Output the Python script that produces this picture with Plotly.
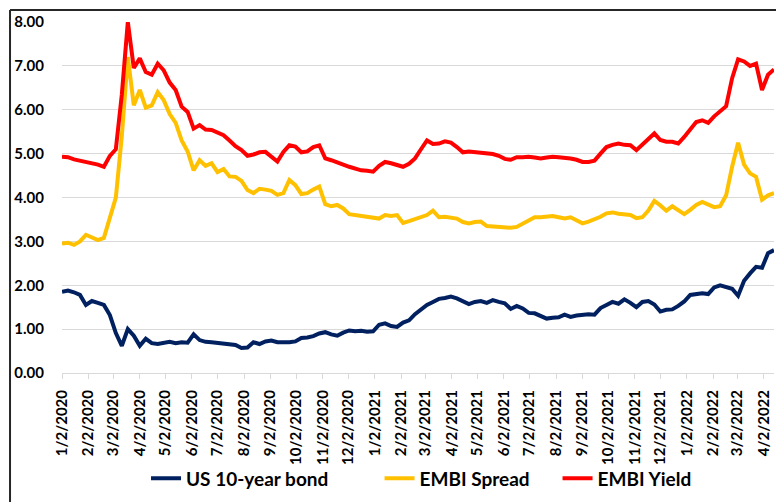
import pandas as pd
import plotly.graph_objects as go

# weekly observations from 2 Jan 2020 to 14 Apr 2022
dates = pd.date_range("2020-01-02", periods=120, freq="7D")

us_10y = [
    1.85, 1.88, 1.84, 1.78, 1.55, 1.64, 1.60, 1.55, 1.32, 0.91,
    0.62, 1.00, 0.85, 0.62, 0.78, 0.68, 0.66, 0.68, 0.71, 0.68,
    0.70, 0.69, 0.88, 0.75, 0.71, 0.70, 0.68, 0.68, 0.66, 0.64,
    0.57, 0.58, 0.70, 0.66, 0.72, 0.74, 0.70, 0.69, 0.70, 0.72,
    0.80, 0.81, 0.84, 0.90, 0.93, 0.88, 0.85, 0.92, 0.97, 0.95,
    0.96, 0.94, 0.95, 1.10, 1.13, 1.07, 1.05, 1.15, 1.20, 1.34,
    1.45, 1.55, 1.62, 1.69, 1.71, 1.74, 1.70, 1.63, 1.57, 1.62,
    1.64, 1.60, 1.66, 1.62, 1.59, 1.46, 1.53, 1.47, 1.37, 1.36,
    1.30, 1.24, 1.26, 1.27, 1.33, 1.28, 1.31, 1.33, 1.34, 1.33,
    1.48, 1.55, 1.62, 1.58, 1.68, 1.60, 1.50, 1.62, 1.64, 1.56,
    1.40, 1.44, 1.45, 1.53, 1.63, 1.78, 1.80, 1.82, 1.80, 1.95,
    2.00, 1.97, 1.92, 1.76, 2.10, 2.27, 2.42, 2.40, 2.73, 2.80,
]

embi_spread = [
    2.95, 2.97, 2.92, 3.00, 3.15, 3.08, 3.03, 3.08, 3.55, 4.00,
    5.40, 7.20, 6.10, 6.45, 6.05, 6.10, 6.40, 6.22, 5.90, 5.70,
    5.30, 5.05, 4.62, 4.85, 4.72, 4.78, 4.58, 4.65, 4.48, 4.47,
    4.38, 4.17, 4.10, 4.20, 4.18, 4.15, 4.06, 4.10, 4.40, 4.28,
    4.08, 4.10, 4.18, 4.25, 3.85, 3.80, 3.83, 3.75, 3.62, 3.60,
    3.60, 3.56, 3.55, 3.52, 3.60, 3.58, 3.60, 3.42, 3.46, 3.50,
    3.55, 3.60, 3.70, 3.55, 3.56, 3.55, 3.52, 3.44, 3.41, 3.44,
    3.45, 3.35, 3.34, 3.34, 3.32, 3.31, 3.33, 3.40, 3.47, 3.55,
    3.55, 3.56, 3.58, 3.55, 3.52, 3.55, 3.48, 3.41, 3.45, 3.50,
    3.56, 3.64, 3.66, 3.63, 3.61, 3.60, 3.53, 3.55, 3.70, 3.92,
    3.82, 3.70, 3.80, 3.72, 3.62, 3.72, 3.83, 3.90, 3.85, 3.78,
    3.80, 4.05, 4.70, 5.25, 4.75, 4.55, 4.47, 3.95, 4.05, 4.10,
]

embi_yield = [
    4.93, 4.92, 4.87, 4.84, 4.82, 4.78, 4.75, 4.70, 4.95, 5.10,
    6.35, 8.00, 6.95, 7.17, 6.86, 6.80, 7.05, 6.90, 6.62, 6.45,
    6.07, 5.95, 5.57, 5.65, 5.55, 5.54, 5.48, 5.42, 5.30, 5.17,
    5.08, 4.95, 4.98, 5.03, 5.04, 4.92, 4.82, 5.04, 5.19, 5.16,
    5.03, 5.05, 5.15, 5.19, 4.89, 4.85, 4.81, 4.75, 4.70, 4.66,
    4.62, 4.61, 4.59, 4.72, 4.81, 4.78, 4.75, 4.70, 4.77, 4.89,
    5.10, 5.30, 5.22, 5.23, 5.28, 5.25, 5.15, 5.03, 5.05, 5.04,
    5.03, 5.01, 4.99, 4.95, 4.88, 4.86, 4.92, 4.92, 4.93, 4.91,
    4.89, 4.91, 4.93, 4.92, 4.91, 4.89, 4.86, 4.81, 4.81, 4.84,
    5.00, 5.15, 5.20, 5.23, 5.20, 5.19, 5.08, 5.20, 5.31, 5.46,
    5.31, 5.27, 5.27, 5.23, 5.38, 5.56, 5.72, 5.76, 5.70, 5.85,
    5.98, 6.08, 6.72, 7.15, 7.10, 7.00, 7.05, 6.45, 6.80, 6.92,
]

tick_dates = [
    "2020-01-02", "2020-02-02", "2020-03-02", "2020-04-02", "2020-05-02", "2020-06-02",
    "2020-07-02", "2020-08-02", "2020-09-02", "2020-10-02", "2020-11-02", "2020-12-02",
    "2021-01-02", "2021-02-02", "2021-03-02", "2021-04-02", "2021-05-02", "2021-06-02",
    "2021-07-02", "2021-08-02", "2021-09-02", "2021-10-02", "2021-11-02", "2021-12-02",
    "2022-01-02", "2022-02-02", "2022-03-02", "2022-04-02",
]
tick_labels = [
    "1/2/2020", "2/2/2020", "3/2/2020", "4/2/2020", "5/2/2020", "6/2/2020",
    "7/2/2020", "8/2/2020", "9/2/2020", "10/2/2020", "11/2/2020", "12/2/2020",
    "1/2/2021", "2/2/2021", "3/2/2021", "4/2/2021", "5/2/2021", "6/2/2021",
    "7/2/2021", "8/2/2021", "9/2/2021", "10/2/2021", "11/2/2021", "12/2/2021",
    "1/2/2022", "2/2/2022", "3/2/2022", "4/2/2022",
]

series = [
    ("US 10-year bond", us_10y, "#002060", "legend"),
    ("EMBI Spread", embi_spread, "#FFC000", "legend2"),
    ("EMBI Yield", embi_yield, "#FF0000", "legend3"),
]

fig = go.Figure()
for name, vals, color, leg in series:
    fig.add_trace(go.Scatter(
        x=dates, y=vals, mode="lines", name=name, legend=leg,
        line=dict(color=color, width=4),
    ))

legend_font = dict(family="Lato", size=19, color="#000000", weight="bold")
legend_common = dict(orientation="h", yanchor="middle", y=-0.30, xanchor="left",
                     font=legend_font, bgcolor="rgba(0,0,0,0)", itemwidth=30)

# the page body adds an 8px offset; the figure runs past the window bottom,
# which is simply cut off, so the legend has room without squeezing the plot
fig.update_layout(
    width=776, height=520,
    margin=dict(l=54, r=10, t=14, b=155),
    paper_bgcolor="white", plot_bgcolor="white",
    showlegend=True,
    legend=dict(x=0.118, **legend_common),
    legend2=dict(x=0.446, **legend_common),
    legend3=dict(x=0.696, **legend_common),
    xaxis=dict(
        range=["2020-01-02", "2022-04-14"], automargin=False,
        tickmode="array", tickvals=tick_dates, ticktext=tick_labels,
        tickangle=-90, tickfont=dict(family="Lato", size=15, color="#000000", weight="bold"),
        ticks="outside", ticklen=5, tickcolor="#D9D9D9", ticklabelstandoff=5,
        showgrid=False, showline=True, linecolor="#D9D9D9", linewidth=1,
    ),
    yaxis=dict(
        range=[0, 8], dtick=1, tickformat=".2f", automargin=False,
        tickfont=dict(family="Lato", size=15, color="#000000", weight="bold"),
        showgrid=True, gridcolor="#D9D9D9", gridwidth=1,
        zeroline=False, showline=False, ticklabelstandoff=17,
    ),
    shapes=[
        # chart-area border (right and bottom edges fall outside the picture)
        dict(type="line", xref="paper", yref="paper", x0=-0.073, x1=1.03, y0=1.034, y1=1.034,
             line=dict(color="#262626", width=2)),
        dict(type="line", xref="paper", yref="paper", x0=-0.073, x1=-0.073, y0=1.034, y1=-0.42,
             line=dict(color="#262626", width=2)),
    ],
)

fig.write_html("out.html")
